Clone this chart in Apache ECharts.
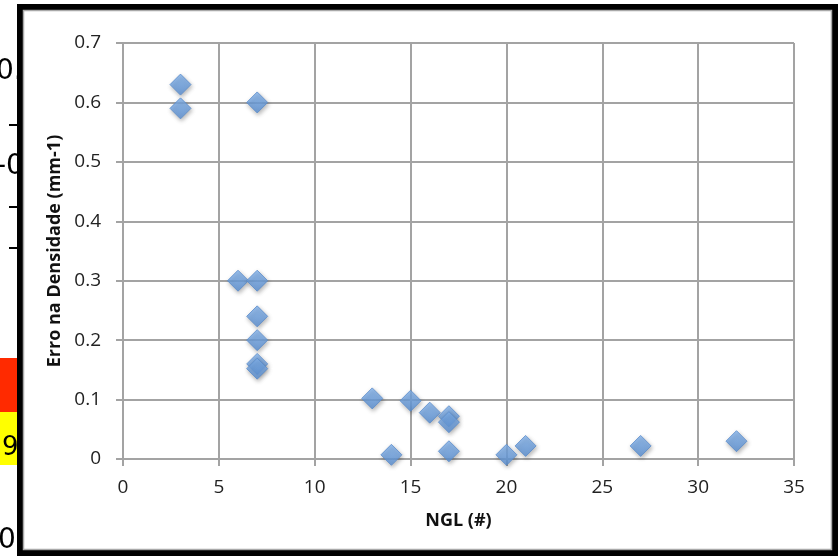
<!DOCTYPE html>
<html>
<head>
<meta charset="utf-8">
<script src="https://cdn.jsdelivr.net/npm/echarts@6/dist/echarts.min.js"></script>
<style>
  html, body { margin: 0; padding: 0; background: #fff; }
  #chart { width: 840px; height: 558px; }
</style>
</head>
<body>
<div id="chart"></div>
<script>
// NGL count vs. density error
const nglValues = [3, 3, 7, 6, 7, 7, 7, 7, 7, 13, 14, 15, 16, 17, 17, 17, 20, 21, 27, 32];
const densityError = [0.63, 0.59, 0.60, 0.30, 0.30, 0.24, 0.20, 0.16, 0.152, 0.102, 0.007, 0.098, 0.078, 0.072, 0.062, 0.013, 0.007, 0.022, 0.022, 0.030];

const xAxisTitle = 'NGL (#)';
const yAxisTitle = 'Erro na Densidade (mm-1)';

const points = nglValues.map((x, i) => [x, densityError[i]]);

const chart = echarts.init(document.getElementById('chart'));
const labelFont = '"Open Sans", Lato, sans-serif';
const gridColor = '#a3a3a3';

chart.setOption({
  backgroundColor: '#fff',
  animation: false,
  grid: { left: 123, right: 46, top: 43, bottom: 99 },
  xAxis: {
    type: 'value', min: 0, max: 35, interval: 5,
    name: xAxisTitle, nameLocation: 'middle', nameGap: 53,
    nameTextStyle: { fontFamily: labelFont, fontWeight: 'bold', fontSize: 18, color: '#111' },
    axisLine: { lineStyle: { color: gridColor, width: 2 } },
    axisTick: { show: true, length: 7, lineStyle: { color: gridColor, width: 2 } },
    axisLabel: { fontFamily: labelFont, fontSize: 19, color: '#222', margin: 19 },
    splitLine: { show: true, lineStyle: { color: gridColor, width: 2 } }
  },
  yAxis: {
    type: 'value', min: 0, max: 0.7, interval: 0.1,
    name: yAxisTitle, nameLocation: 'middle', nameGap: 57, nameRotate: 90,
    nameTextStyle: { fontFamily: labelFont, fontWeight: 'bold', fontSize: 18, color: '#111' },
    axisLine: { show: true, lineStyle: { color: gridColor, width: 2 } },
    axisTick: { show: true, length: 7, lineStyle: { color: gridColor, width: 2 } },
    axisLabel: { fontFamily: labelFont, fontSize: 19, color: '#222', margin: 22,
      formatter: v => (v === 0 ? '0' : v.toFixed(1)) },
    splitLine: { show: true, lineStyle: { color: gridColor, width: 2 } }
  },
  series: [{
    type: 'scatter',
    data: points,
    symbol: 'diamond',
    symbolSize: 21,
    itemStyle: {
      color: new echarts.graphic.LinearGradient(0, 0, 0, 1, [
        { offset: 0, color: '#84b5ef' },
        { offset: 1, color: '#5a91d6' }
      ]),
      borderColor: '#5a8ccc',
      borderWidth: 1,
      shadowColor: 'rgba(0,0,0,0.35)',
      shadowBlur: 4,
      shadowOffsetX: 1,
      shadowOffsetY: 2
    }
  }],
  graphic: [
    // fragments of an underlying page showing at the left edge
    { type: 'text', left: -4, top: 58, z: 0, style: { text: '0.', fontSize: 28, fontFamily: '"DejaVu Sans", sans-serif', fill: '#000' } },
    { type: 'text', left: -4, top: 153, z: 0, style: { text: '-0', fontSize: 28, fontFamily: '"DejaVu Sans", sans-serif', fill: '#000' } },
    { type: 'rect', z: 0, shape: { x: 9, y: 124, width: 12, height: 2 }, style: { fill: '#000' } },
    { type: 'rect', z: 0, shape: { x: 9, y: 206, width: 12, height: 2 }, style: { fill: '#000' } },
    { type: 'rect', z: 0, shape: { x: 9, y: 247, width: 12, height: 2 }, style: { fill: '#000' } },
    { type: 'rect', z: 0, shape: { x: 0, y: 358, width: 22, height: 54 }, style: { fill: '#ff2a00' } },
    { type: 'rect', z: 0, shape: { x: 0, y: 412, width: 22, height: 53 }, style: { fill: '#ffff00' } },
    { type: 'text', left: 2, top: 435, z: 1, style: { text: '9', fontSize: 26, fontFamily: '"DejaVu Sans", sans-serif', fill: '#000' } },
    { type: 'text', left: -2, top: 527, z: 1, style: { text: '0', fontSize: 28, fontFamily: '"DejaVu Sans", sans-serif', fill: '#000' } },
    // chart frame
    { type: 'rect', z: -1, shape: { x: 20, y: 7, width: 815, height: 546 }, style: { fill: '#fff' } },
    { type: 'rect', z: 5, shape: { x: 20, y: 7, width: 815, height: 546 }, style: { fill: 'none', stroke: '#000', lineWidth: 6 } },
    { type: 'rect', z: 5, shape: { x: 23.5, y: 10.5, width: 808, height: 539 }, style: { fill: 'none', stroke: '#a9a9a9', lineWidth: 1.5 } }
  ]
});
</script>
</body>
</html>
